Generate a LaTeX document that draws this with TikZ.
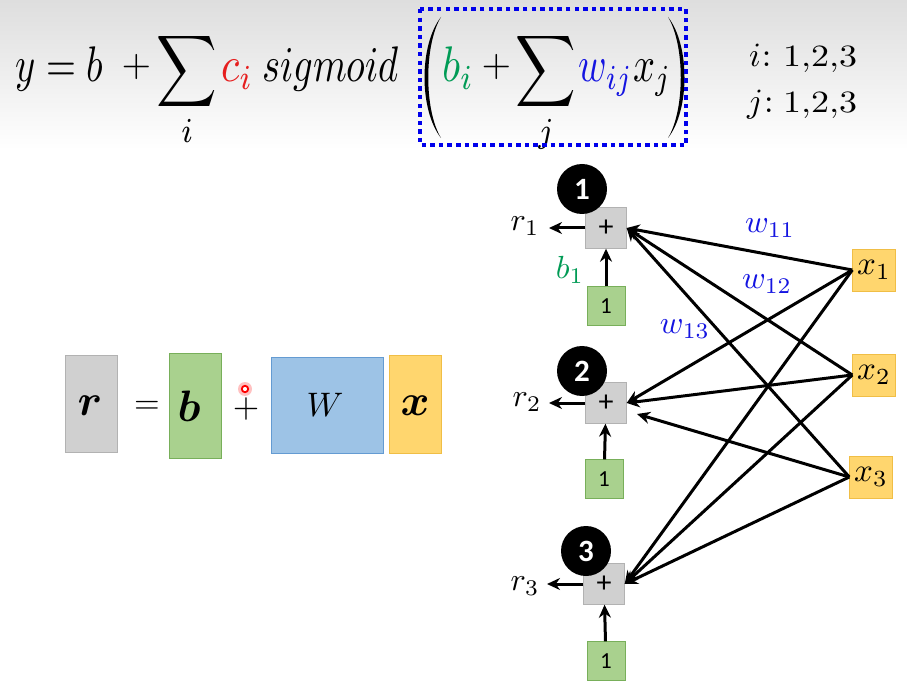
\documentclass[tikz,border=0pt]{standalone}
\usepackage{amsmath,bm}
\usepackage{fontspec}
\newfontfamily\calib{Carlito}
\usetikzlibrary{arrows.meta}
\definecolor{grayF}{RGB}{208,208,208}
\definecolor{grayD}{RGB}{178,178,178}
\definecolor{greenF}{RGB}{169,209,142}
\definecolor{greenD}{RGB}{120,175,90}
\definecolor{blueF}{RGB}{157,195,230}
\definecolor{blueD}{RGB}{100,155,210}
\definecolor{orangeF}{RGB}{255,214,110}
\definecolor{orangeD}{RGB}{240,190,70}
\definecolor{wblue}{RGB}{20,20,225}
\definecolor{bgreen}{RGB}{0,155,85}
\definecolor{cred}{RGB}{230,30,30}
\definecolor{dotblue}{RGB}{0,0,235}
\newcommand{\fm}[1]{\scalebox{4.2}[5]{$\displaystyle #1$}}
\newcommand{\fmn}[1]{\scalebox{3.85}[5]{$\displaystyle #1$}}
\newcommand{\sm}[2]{\scalebox{#1}{$#2$}}
\begin{document}
\begin{tikzpicture}[x=1pt,y=-1pt,
  pbox/.style={draw=grayD, fill=grayF, minimum width=41pt, minimum height=41pt, inner sep=0pt, font=\calib\fontsize{30}{30}\selectfont},
  obox/.style={draw=greenD, fill=greenF, minimum width=38pt, minimum height=39pt, inner sep=0pt, font=\calib\fontsize{23}{24}\selectfont},
  xbox/.style={draw=orangeD, fill=orangeF, minimum width=43pt, minimum height=42pt, inner sep=0pt},
  num/.style={circle, fill=black, minimum size=50pt, inner sep=0pt, text=white, font=\calib\bfseries\fontsize{31}{32}\selectfont},
  wire/.style={line width=3pt, -{Stealth[length=13pt,width=12pt]}},
  lab/.style={inner sep=0pt},
  fpart/.style={anchor=base west, inner sep=0pt},
  vbox/.style={draw=#1D, fill=#1F, inner sep=0pt},
  big/.style={inner sep=0pt}
]
\useasboundingbox (0,0) rectangle (907,684);
\fill[white] (0,0) rectangle (907,684);
\shade[top color=black!13, bottom color=white] (0,0) rectangle (907,150);

% ---- top formula ----
\node[fpart] (fy) at (15,82) {\fmn{y=b}};
\node[inner sep=0pt] (fp1) at (136.5,67) {\sm{3.8}{+}};
\node[anchor=base, inner sep=0pt] (s1) at (187,84) {\fm{\smash[t]{\sum_i}}};
\node[fpart] (fc) at (221,82) {\fm{\color{cred}c_i}};
\node[fpart] (fsig) at (262,82) {\fmn{sigmoid}};
\node[fpart] (fb) at (442,82) {\fm{\color{bgreen}b_i}};
\node[inner sep=0pt] (fp2) at (496.5,67) {\sm{3.8}{+}};
\node[anchor=base, inner sep=0pt] (s2) at (546,84) {\fm{\smash[t]{\sum_j}}};
\node[fpart] (fw) at (578,82) {\fmn{\color{wblue}w_{ij}}};
\node[fpart] (fx) at (633,82) {\fmn{x_j}};
\fill (441,17) .. controls (419,45) and (419,110) .. (441,138)
      .. controls (424,110) and (424,45) .. (441,17);
\fill (668,17) .. controls (690,45) and (690,110) .. (668,138)
      .. controls (685,110) and (685,45) .. (668,17);
\draw[dotblue, line width=4.5pt, dash pattern=on 4.5pt off 4.1pt] (420,9) rectangle (686,145);

\node[fpart] (ii) at (749,67) {\scalebox{3.4}{$i$\kern0.3pt:}};
\node[fpart] (id) at (783,67) {\scalebox{3.6}[3.1]{$1{,}2{,}3$}};
\node[fpart] (jj) at (747,113) {\scalebox{3.4}{$j$\kern0.3pt:}};
\node[fpart] (jd) at (783,113) {\scalebox{3.6}[3.1]{$1{,}2{,}3$}};

% ---- left equation ----
\node[vbox=gray, minimum width=52pt, minimum height=97pt] (rb) at (91,403.5) {};
\node[big] (rt) at (90,406) {\sm{4.4}{\bm{r}}};
\node[inner sep=0pt] (eq) at (147,407) {\sm{3.3}{=}};
\node[vbox=green, minimum width=52pt, minimum height=105pt] (bb) at (195,405.5) {};
\node[big] (bt) at (189,406) {\sm{4.4}{\bm{b}}};
\node[inner sep=0pt] (pl) at (246,409) {\sm{3.4}{+}};
\fill[red!30, opacity=0.8] (245,389) circle (7pt);
\draw[red, line width=1.8pt, fill=white] (245,389) circle (3.2pt);
\node[vbox=blue, minimum width=112pt, minimum height=96pt] (Wb) at (327,405) {};
\node[inner sep=0pt] (Wt) at (325,405) {\sm{3.4}{W}};
\node[vbox=orange, minimum width=52pt, minimum height=98pt] (xb) at (415,404) {};
\node[big] (xt) at (415,406) {\sm{4.4}{\bm{x}}};

% ---- right network ----
\node[pbox] (p1) at (606,228) {+};
\node[pbox] (p2) at (606,403) {+};
\node[pbox] (p3) at (604,584) {+};
\node[obox] (g1) at (606,306) {1};
\node[obox] (g2) at (604,479) {1};
\node[obox] (g3) at (606,661) {1};
\node[xbox] (x1) at (874,270) {\sm{3.3}{x_1}};
\node[xbox] (x2) at (874,375) {\sm{3.3}{x_2}};
\node[xbox] (x3) at (871,477) {\sm{3.3}{x_3}};

\foreach \i in {1,2,3} {
  \draw[wire] (g\i) -- (p\i);
}
\coordinate (o1) at (549,228);
\coordinate (o2) at (549,403);
\coordinate (o3) at (547,584);
\draw[wire] (p1.west) -- (o1);
\draw[wire] (p2.west) -- (o2);
\draw[wire] (p3.west) -- (o3);
\node[lab] (r1) at (525,226) {\sm{3.2}{r_1}};
\node[lab] (r2) at (527,402) {\sm{3.2}{r_2}};
\node[lab] (r3) at (525,586) {\sm{3.2}{r_3}};
\node[lab] (b1) at (570,270) {\sm{3.2}{\color{bgreen}b_1}};

\coordinate (a23) at (637,414);
\draw[wire] (x1.west) -- (p1.east);
\draw[wire] (x2.west) -- (p1.east);
\draw[wire] (x3.west) -- (p1.east);
\draw[wire] (x1.west) -- (p2.east);
\draw[wire] (x2.west) -- (p2.east);
\draw[wire] (x3.west) -- (a23);
\draw[wire] (x1.west) -- (p3.east);
\draw[wire] (x2.west) -- (p3.east);
\draw[wire] (x3.west) -- (p3.east);

\node[num] (n1) at (582,189) {1};
\node[num] (n2) at (582,371) {2};
\node[num] (n3) at (586,551) {3};

\node[lab] (w11) at (770,228) {\sm{3.2}{\color{wblue}w_{11}}};
\node[lab] (w12) at (767,284) {\sm{3.2}{\color{wblue}w_{12}}};
\node[lab] (w13) at (685,329) {\sm{3.2}{\color{wblue}w_{13}}};
\end{tikzpicture}
\end{document}
